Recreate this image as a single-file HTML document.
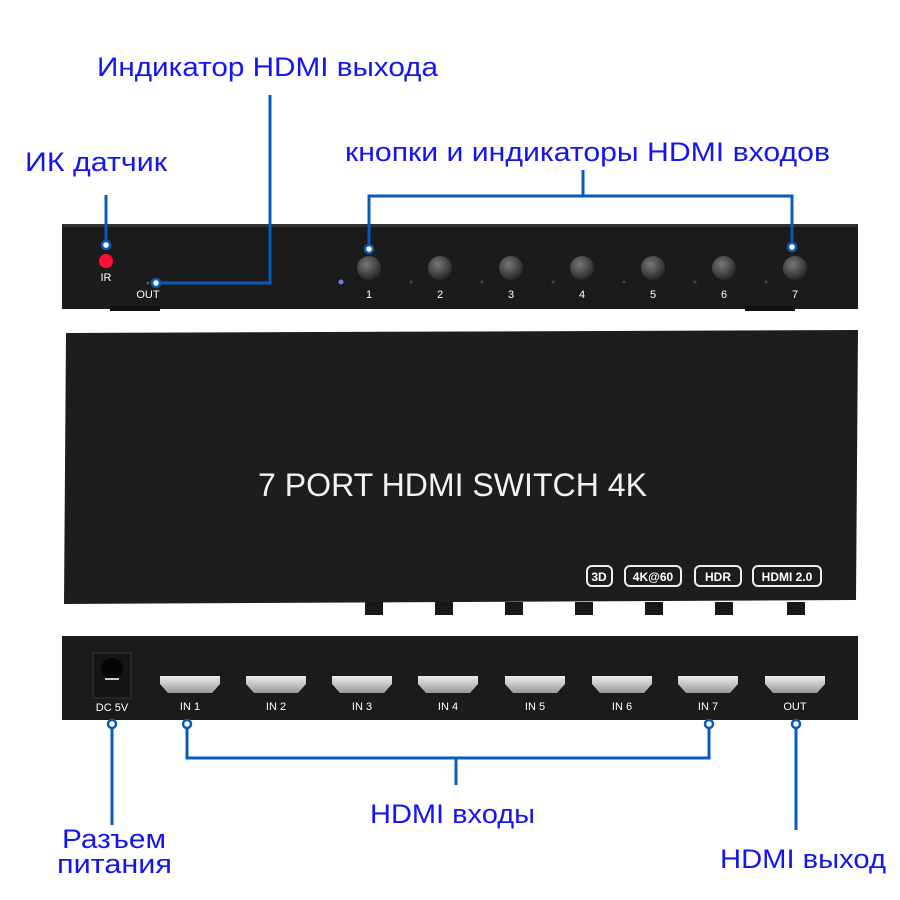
<!DOCTYPE html>
<html><head><meta charset="utf-8"><style>
html,body{margin:0;padding:0;background:#fff;}
svg{display:block;}
.lb{font-family:"Liberation Sans",sans-serif;fill:#fff;font-size:11px;text-anchor:middle;}
.bl{font-family:"Liberation Sans","DejaVu Sans",sans-serif;fill:#1515ee;font-size:27px;}
</style></head><body>
<svg width="900" height="900" viewBox="0 0 900 900" xmlns="http://www.w3.org/2000/svg">
<defs>
<radialGradient id="btn" cx="40%" cy="35%" r="70%"><stop offset="0" stop-color="#777"/><stop offset="1" stop-color="#222"/></radialGradient>
<linearGradient id="port" x1="0" y1="0" x2="0" y2="1"><stop offset="0" stop-color="#eee"/><stop offset="1" stop-color="#999"/></linearGradient>
</defs>
<rect x="62" y="224" width="796" height="85" fill="#1b1b1b"/>
<rect x="62" y="224" width="796" height="3" fill="#333"/>
<rect x="110" y="306" width="50" height="5" fill="#111"/>
<rect x="745" y="306" width="50" height="5" fill="#111"/>
<circle cx="106" cy="261" r="7" fill="#ff1030"/>
<text class="lb" x="106" y="281">IR</text>
<circle cx="148" cy="283" r="1.5" fill="#555"/>
<text class="lb" x="148" y="298">OUT</text>
<circle cx="341" cy="282" r="2.5" fill="#6a7aff"/>
<g>
<circle cx="369" cy="268" r="12" fill="url(#btn)"/><text class="lb" x="369" y="298">1</text>
<circle cx="440" cy="268" r="12" fill="url(#btn)"/><text class="lb" x="440" y="298">2</text>
<circle cx="511" cy="268" r="12" fill="url(#btn)"/><text class="lb" x="511" y="298">3</text>
<circle cx="582" cy="268" r="12" fill="url(#btn)"/><text class="lb" x="582" y="298">4</text>
<circle cx="653" cy="268" r="12" fill="url(#btn)"/><text class="lb" x="653" y="298">5</text>
<circle cx="724" cy="268" r="12" fill="url(#btn)"/><text class="lb" x="724" y="298">6</text>
<circle cx="795" cy="268" r="12" fill="url(#btn)"/><text class="lb" x="795" y="298">7</text>
<g fill="#444"><circle cx="411" cy="282" r="1.5"/><circle cx="482" cy="282" r="1.5"/><circle cx="553" cy="282" r="1.5"/><circle cx="624" cy="282" r="1.5"/><circle cx="695" cy="282" r="1.5"/><circle cx="766" cy="282" r="1.5"/></g>
</g>
<polygon points="66,333 858,330 856,600 64,604" fill="#1d1d1d"/>
<g fill="#181818">
<rect x="365" y="602" width="18" height="13"/><rect x="435" y="602" width="18" height="13"/><rect x="505" y="602" width="18" height="13"/><rect x="575" y="602" width="18" height="13"/><rect x="645" y="602" width="18" height="13"/><rect x="715" y="602" width="18" height="13"/><rect x="787" y="602" width="18" height="13"/>
</g>
<text x="258" y="496" font-family="Liberation Sans,sans-serif" font-size="32" fill="#f2f2f2" textLength="389" lengthAdjust="spacingAndGlyphs">7 PORT HDMI SWITCH 4K</text>
<g fill="none" stroke="#eee" stroke-width="2">
<rect x="587" y="566" width="25" height="20" rx="5"/><rect x="625" y="566" width="56" height="20" rx="5"/><rect x="695" y="566" width="46" height="20" rx="5"/><rect x="753" y="566" width="68" height="20" rx="5"/>
</g>
<g font-family="Liberation Sans,sans-serif" font-size="12" font-weight="bold" fill="#fff" text-anchor="middle">
<text x="599" y="581">3D</text><text x="653" y="581">4K@60</text><text x="718" y="581">HDR</text><text x="787" y="581">HDMI 2.0</text>
</g>
<rect x="62" y="636" width="796" height="84" fill="#1b1b1b"/>
<rect x="93" y="653" width="38" height="45" fill="#151515" stroke="#333"/>
<circle cx="112" cy="669" r="11" fill="#050505"/>
<rect x="105" y="678" width="14" height="2" fill="#ccc"/>
<text class="lb" x="112" y="711">DC 5V</text>
<g>
<path d="M160,676 h60 v8 l-8,9 h-44 l-8,-9z" fill="url(#port)"/><text class="lb" x="190" y="710">IN 1</text>
<path d="M246,676 h60 v8 l-8,9 h-44 l-8,-9z" fill="url(#port)"/><text class="lb" x="276" y="710">IN 2</text>
<path d="M332,676 h60 v8 l-8,9 h-44 l-8,-9z" fill="url(#port)"/><text class="lb" x="362" y="710">IN 3</text>
<path d="M418,676 h60 v8 l-8,9 h-44 l-8,-9z" fill="url(#port)"/><text class="lb" x="448" y="710">IN 4</text>
<path d="M505,676 h60 v8 l-8,9 h-44 l-8,-9z" fill="url(#port)"/><text class="lb" x="535" y="710">IN 5</text>
<path d="M592,676 h60 v8 l-8,9 h-44 l-8,-9z" fill="url(#port)"/><text class="lb" x="622" y="710">IN 6</text>
<path d="M678,676 h60 v8 l-8,9 h-44 l-8,-9z" fill="url(#port)"/><text class="lb" x="708" y="710">IN 7</text>
<path d="M765,676 h60 v8 l-8,9 h-44 l-8,-9z" fill="url(#port)"/><text class="lb" x="795" y="710">OUT</text>
</g>
<g fill="none" stroke="#0a5bb8" stroke-width="3">
<path d="M106,195 V243"/>
<path d="M270,95 V283 H160"/>
<path d="M583,170 V196 M369,247 V196 H792 V243"/>
<path d="M112,727 V825"/>
<path d="M187,727 V758 H709 V727 M456,758 V785"/>
<path d="M796,727 V830"/>
</g>
<g fill="#fff" stroke="#0a5bb8" stroke-width="2.5">
<circle cx="106" cy="245" r="4"/><circle cx="156" cy="283" r="4"/><circle cx="369" cy="249" r="4"/><circle cx="792" cy="247" r="4"/>
<circle cx="112" cy="724" r="4"/><circle cx="187" cy="724" r="4"/><circle cx="709" cy="724" r="4"/><circle cx="796" cy="724" r="4"/>
</g>
<text class="bl" x="97" y="76" textLength="341" lengthAdjust="spacingAndGlyphs">Индикатор HDMI выхода</text>
<text class="bl" x="25" y="171" textLength="142" lengthAdjust="spacingAndGlyphs">ИК датчик</text>
<text class="bl" x="345" y="161" textLength="485" lengthAdjust="spacingAndGlyphs">кнопки и индикаторы HDMI входов</text>
<text class="bl" x="370" y="823" textLength="165" lengthAdjust="spacingAndGlyphs">HDMI входы</text>
<text class="bl" x="62" y="848" textLength="104" lengthAdjust="spacingAndGlyphs">Разъем</text>
<text class="bl" x="57" y="873" textLength="115" lengthAdjust="spacingAndGlyphs">питания</text>
<text class="bl" x="720" y="868" textLength="166" lengthAdjust="spacingAndGlyphs">HDMI выход</text>
</svg>
</body></html>
